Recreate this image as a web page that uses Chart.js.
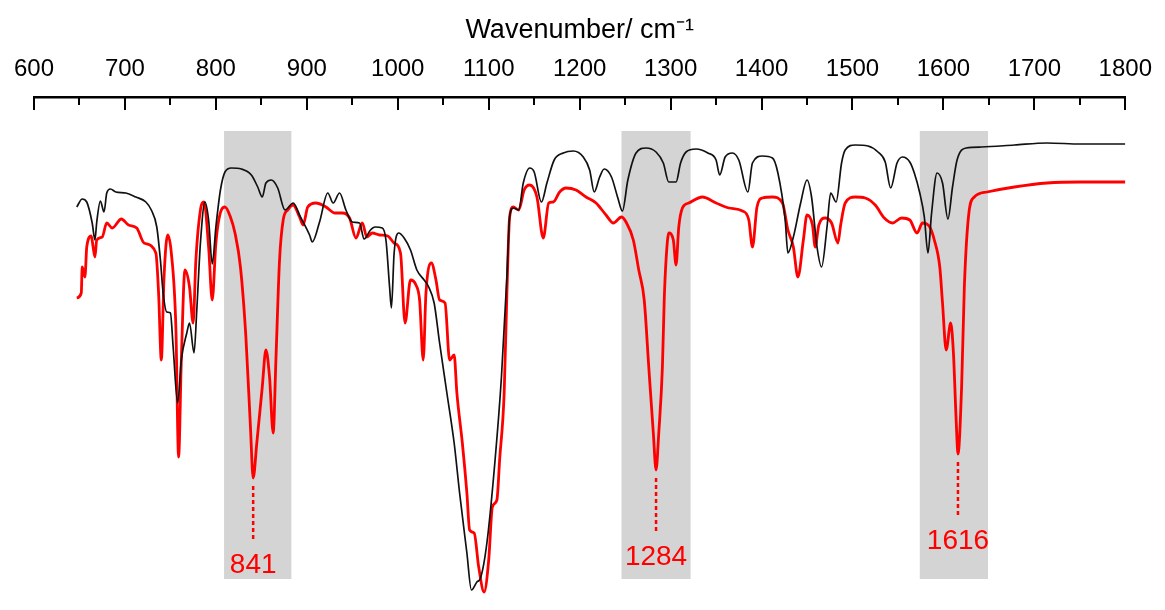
<!DOCTYPE html>
<html>
<head>
<meta charset="utf-8">
<script src="https://cdn.jsdelivr.net/npm/chart.js@4/dist/chart.umd.min.js"></script>
<style>
  html, body { margin: 0; padding: 0; background: #fff; }
  .chart-box { position: relative; width: 1165px; height: 610px; }
</style>
</head>
<body>
<div class="chart-box"><canvas id="ir-spectrum"></canvas></div>
<script>
// IR spectra, transmittance in arbitrary units (y axis hidden)
const wavenumberRange = [600, 1800];
const tickStep = 50;

// black trace: [wavenumber, transmittance]
const blackTrace = [
  [647, 393], [653, 401], [658, 398], [664, 377], [667, 360], [669, 378], [673, 399], [677, 388],
  [680, 407], [684, 411], [690, 408], [701, 407], [712, 403], [723, 398], [729, 390], [735, 373],
  [739, 340], [742, 307], [746, 288], [750, 287], [753, 253], [758, 197], [762, 240], [768, 267],
  [771, 277], [776, 247], [779, 290], [783, 357], [788, 398], [792, 380], [796, 336], [800, 373],
  [805, 410], [810, 428], [817, 432], [828, 431], [839, 425], [846, 413], [851, 403], [855, 417],
  [861, 420], [868, 412], [876, 390], [885, 397], [893, 383], [903, 365], [906, 358], [914, 378],
  [923, 407], [929, 397], [936, 407], [943, 390], [950, 378], [958, 377], [963, 361], [970, 370],
  [975, 373], [983, 372], [987, 360], [991, 313], [993, 292], [996, 347], [1001, 367], [1007, 362],
  [1014, 350], [1021, 330], [1029, 320], [1034, 313], [1040, 297], [1046, 257], [1054, 207],
  [1062, 157], [1068, 107], [1076, 47], [1081, 10], [1087, 18], [1091, 22], [1098, 57], [1107, 140],
  [1114, 223], [1120, 323], [1123, 383], [1127, 392], [1133, 390], [1138, 417], [1145, 432],
  [1150, 428], [1158, 398], [1164, 417], [1172, 440], [1182, 447], [1193, 449], [1204, 443],
  [1211, 430], [1216, 408], [1222, 423], [1227, 431], [1235, 423], [1242, 402], [1247, 389],
  [1253, 420], [1262, 447], [1273, 452], [1284, 448], [1292, 437], [1298, 418], [1306, 418],
  [1311, 437], [1317, 448], [1328, 451], [1341, 447], [1350, 440], [1354, 425], [1360, 443],
  [1368, 447], [1375, 440], [1385, 408], [1390, 437], [1401, 444], [1412, 442], [1418, 427],
  [1426, 380], [1429, 347], [1435, 363], [1443, 397], [1450, 420], [1455, 403], [1461, 353],
  [1466, 333], [1472, 373], [1476, 407], [1482, 398], [1488, 437], [1492, 450], [1503, 455],
  [1517, 454], [1528, 448], [1536, 438], [1542, 412], [1549, 437], [1555, 443], [1563, 438],
  [1568, 427], [1574, 407], [1579, 383], [1583, 347], [1587, 387], [1593, 427], [1599, 417],
  [1605, 381], [1610, 413], [1615, 440], [1625, 452], [1642, 453], [1678, 455], [1714, 457],
  [1751, 456], [1800, 456]
];

// red trace: [wavenumber, transmittance]
const redTrace = [
  [647, 302], [652, 307], [653, 333], [656, 323], [658, 353], [663, 364], [665, 353], [667, 343],
  [669, 360], [675, 363], [680, 377], [686, 372], [696, 381], [704, 375], [713, 372], [721, 357],
  [734, 347], [737, 307], [740, 240], [743, 323], [747, 365], [751, 347], [756, 273], [759, 143],
  [762, 240], [766, 330], [771, 313], [775, 277], [778, 340], [783, 390], [787, 398], [792, 353],
  [796, 300], [800, 357], [806, 390], [810, 393], [816, 383], [821, 367], [827, 333], [833, 263],
  [838, 173], [841, 122], [845, 157], [851, 213], [855, 250], [859, 223], [863, 167], [866, 240],
  [870, 340], [874, 380], [879, 390], [885, 395], [892, 383], [896, 375], [901, 393], [910, 397],
  [921, 393], [931, 387], [939, 387], [947, 382], [954, 362], [961, 377], [966, 363], [972, 367],
  [980, 365], [989, 364], [996, 357], [1003, 347], [1008, 277], [1014, 320], [1020, 315],
  [1024, 300], [1028, 240], [1031, 307], [1037, 337], [1042, 320], [1046, 300], [1052, 297],
  [1057, 240], [1062, 245], [1065, 207], [1071, 157], [1076, 107], [1079, 70], [1084, 67],
  [1089, 33], [1095, 8], [1100, 40], [1104, 93], [1109, 100], [1112, 140], [1117, 207],
  [1120, 307], [1123, 383], [1127, 393], [1133, 390], [1139, 410], [1145, 415], [1153, 403],
  [1160, 362], [1166, 397], [1171, 398], [1178, 408], [1185, 412], [1196, 410], [1207, 403],
  [1218, 397], [1229, 385], [1237, 377], [1246, 383], [1251, 378], [1259, 360], [1265, 330],
  [1271, 300], [1276, 233], [1281, 167], [1284, 130], [1287, 167], [1291, 233], [1293, 300],
  [1295, 340], [1298, 367], [1303, 360], [1306, 335], [1309, 373], [1313, 392], [1320, 397],
  [1335, 403], [1350, 397], [1364, 392], [1379, 389], [1386, 380], [1390, 353], [1395, 393],
  [1401, 402], [1412, 403], [1423, 397], [1429, 370], [1435, 353], [1440, 323], [1446, 360],
  [1450, 385], [1456, 375], [1459, 353], [1463, 375], [1470, 382], [1477, 377], [1484, 357],
  [1487, 375], [1492, 397], [1503, 403], [1514, 402], [1525, 395], [1535, 382], [1544, 377],
  [1554, 382], [1563, 380], [1571, 367], [1577, 377], [1585, 373], [1590, 360], [1596, 333],
  [1599, 297], [1603, 250], [1608, 277], [1611, 247], [1614, 180], [1616, 146], [1620, 213],
  [1623, 313], [1628, 387], [1634, 403], [1648, 408], [1678, 413], [1714, 417], [1751, 418],
  [1800, 418]
];

// highlighted regions [from, to] and their vertical extent
const bandRanges = [[809, 883], [1246, 1322], [1574, 1649]];
const bandExtent = [21, 469];

// marked red-trace minima
const peakMarks = [841, 1284, 1616];

const toPoints = (rows) => rows.map(([x, y]) => ({ x, y }));

(function() {
  "use strict";

  const RED = "#ff0000";
  const fontFamily = '"Liberation Sans", Arial, Helvetica, sans-serif';
  Chart.defaults.font.family = fontFamily;
  Chart.defaults.color = "#000";

  // grey boxes behind the traces
  const bandPlugin = {
    id: "bands",
    beforeDatasetsDraw(chart) {
      const { ctx, scales: { x, y } } = chart;
      const top = y.getPixelForValue(bandExtent[1]);
      const bottom = y.getPixelForValue(bandExtent[0]);
      ctx.save();
      ctx.fillStyle = "#d4d4d4";
      bandRanges.forEach(([from, to]) => {
        const left = x.getPixelForValue(from);
        const right = x.getPixelForValue(to);
        ctx.fillRect(left, top, right - left, bottom - top);
      });
      ctx.restore();
    }
  };

  // tick marks pointing down from the top axis, long ones on hundreds
  const innerTicksPlugin = {
    id: "innerTicks",
    afterDraw(chart) {
      const { ctx, chartArea, scales: { x } } = chart;
      ctx.save();
      ctx.strokeStyle = "#000";
      ctx.lineWidth = 2;
      x.ticks.forEach((t) => {
        const px = Math.round(x.getPixelForValue(t.value));
        const len = t.value % 100 === 0 ? 13 : 8;
        ctx.beginPath();
        ctx.moveTo(px, chartArea.top);
        ctx.lineTo(px, chartArea.top + len);
        ctx.stroke();
      });
      ctx.restore();
    }
  };

  // dotted drop line and value under each marked peak
  const peakLabelPlugin = {
    id: "peakLabels",
    afterDatasetsDraw(chart) {
      const { ctx, scales: { x, y } } = chart;
      ctx.save();
      ctx.strokeStyle = RED;
      ctx.fillStyle = RED;
      ctx.lineWidth = 2.5;
      ctx.setLineDash([4, 3]);
      ctx.font = "28px " + fontFamily;
      ctx.textAlign = "center";
      ctx.textBaseline = "middle";
      peakMarks.forEach((wn) => {
        const pt = redTrace.find((r) => r[0] === wn);
        const px = x.getPixelForValue(wn);
        const py = y.getPixelForValue(pt[1]);
        ctx.beginPath();
        ctx.moveTo(px, py + 8);
        ctx.lineTo(px, py + 64);
        ctx.stroke();
        ctx.fillText(String(wn), px, py + 87);
      });
      ctx.restore();
    }
  };

  const ctx = document.getElementById("ir-spectrum").getContext("2d");
  new Chart(ctx, {
    type: "line",
    data: {
      datasets: [
        {
          data: toPoints(blackTrace),
          borderColor: "#111",
          borderWidth: 1.7,
          pointRadius: 0,
          cubicInterpolationMode: "monotone"
        },
        {
          data: toPoints(redTrace),
          borderColor: RED,
          borderWidth: 2.8,
          pointRadius: 0,
          cubicInterpolationMode: "monotone"
        }
      ]
    },
    options: {
      responsive: true,
      maintainAspectRatio: false,
      animation: false,
      events: [],
      layout: { padding: { top: 0, left: 34, right: 34, bottom: 10 } },
      plugins: {
        legend: { display: false },
        tooltip: { enabled: false }
      },
      scales: {
        x: {
          type: "linear",
          position: "top",
          min: wavenumberRange[0],
          max: wavenumberRange[1],
          afterFit(scale) {
            scale.height = 97;
          },
          grid: { display: false, drawTicks: false },
          border: { display: true, color: "#000", width: 2.5 },
          ticks: {
            stepSize: tickStep,
            autoSkip: false,
            maxRotation: 0,
            padding: 13,
            color: "#000",
            font: { size: 24 },
            callback: (v) => (v % 100 === 0 ? String(v) : "")
          },
          title: {
            display: true,
            text: "Wavenumber/ cm\u207B\u00B9",
            color: "#000",
            font: { size: 27 },
            padding: { top: 14, bottom: 0 }
          }
        },
        y: {
          type: "linear",
          display: false,
          min: 0,
          max: 503
        }
      }
    },
    plugins: [bandPlugin, peakLabelPlugin, innerTicksPlugin]
  });
})();
</script>
</body>
</html>
